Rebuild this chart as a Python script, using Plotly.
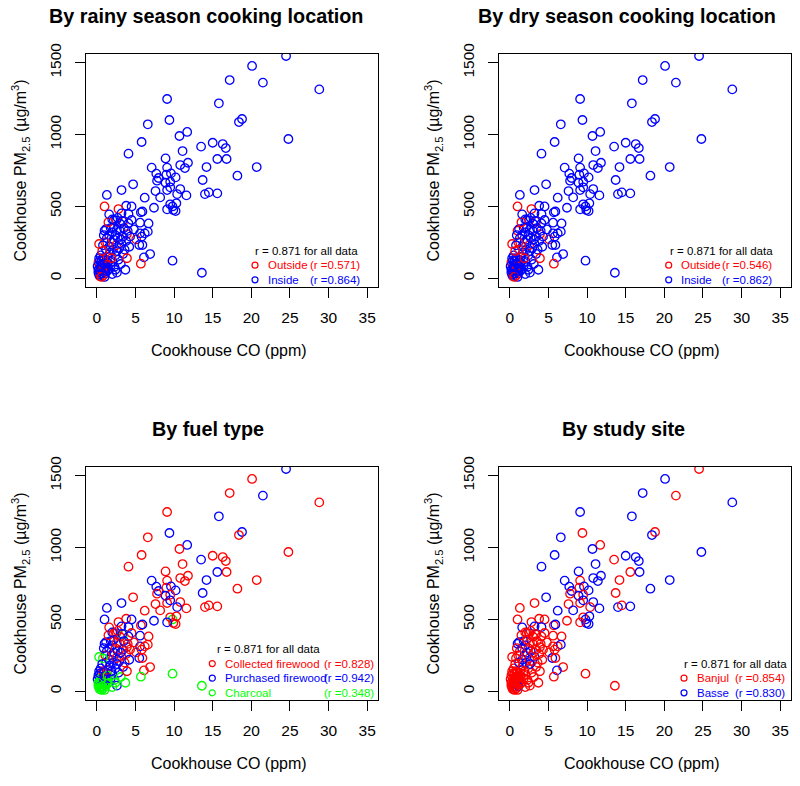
import plotly.graph_objects as go

# ---------------- data ----------------
# Cookhouse CO (ppm)
co = [
    24.5, 20.1, 17.2, 21.5, 28.8, 9.1, 15.8, 18.8, 18.4, 9.4,
    6.6, 11.7, 10.7, 24.8, 5.8, 15.0, 16.3, 16.7, 13.5, 11.1,
    4.1, 8.9, 15.6, 16.8, 10.8, 11.8, 11.4, 7.1, 9.1, 14.2,
    20.7, 7.7, 8.0, 9.0, 9.6, 10.2, 9.5, 8.9, 7.8, 18.2,
    13.7, 4.7, 10.8, 9.1, 9.5, 7.6, 3.2, 11.6, 10.4, 8.2,
    14.0, 14.5, 15.6, 1.3, 6.2, 7.4, 9.8, 9.5, 9.9, 10.2,
    9.1, 10.3, 3.8, 4.5, 4.1, 1.0, 2.8, 5.7, 5.9, 1.6,
    2.5, 3.4, 4.5, 4.1, 5.6, 6.7, 1.0, 1.2, 3.9, 5.1,
    5.5, 5.9, 6.9, 6.1, 9.8, 13.6, 5.7, 0.3, 5.6, 6.2,
    6.6, 5.8, 4.8, 3.2, 2.2,
    # dense cluster near the origin
    0.2, 0.3, 0.4, 0.5, 0.6, 0.7, 0.8, 0.9, 1.0, 0.2,
    0.4, 0.6, 0.8, 1.1, 1.2, 0.3, 0.5, 0.7, 0.9, 1.0,
    0.1, 0.6, 1.1, 0.4, 0.8, 0.3, 0.9, 1.2, 0.5, 0.2,
    0.7, 1.0, 0.6, 1.3, 0.4,
    1.5, 1.8, 2.0, 2.3, 2.6, 1.4, 1.7, 2.1, 2.4, 2.8,
    3.1, 3.4, 1.6, 1.9, 2.2, 2.5, 2.9, 3.2, 3.6, 1.3,
    1.6, 2.0, 2.4, 2.7, 3.0, 3.4, 3.8, 1.8, 2.2, 2.6,
    3.0, 3.5, 1.5, 2.0, 2.7, 3.3, 4.0, 4.3, 4.2, 3.9,
    1.2, 1.1, 0.9, 0.8, 0.7, 1.4, 2.0, 2.6, 3.1, 1.9,
    2.4, 3.7,
]
# Cookhouse PM2.5 (ug/m3)
pm = [
    1546, 1477, 1379, 1361, 1314, 1247, 1217, 1108, 1087, 1101,
    1071, 1018, 990, 969, 948, 943, 934, 906, 916, 885,
    867, 834, 830, 830, 788, 804, 767, 770, 770, 774,
    774, 728, 698, 721, 730, 702, 672, 665, 679, 714,
    684, 654, 621, 614, 633, 607, 614, 577, 586, 563,
    586, 598, 591, 580, 561, 491, 500, 515, 475, 468,
    480, 522, 505, 500, 447, 500, 482, 459, 465, 445,
    403, 394, 406, 382, 387, 382, 331, 343, 308, 271,
    232, 232, 169, 146, 123, 39, 102, 239, 313, 313,
    325, 290, 340, 452, 406,
    40, 65, 90, 30, 55, 80, 20, 45, 70, 110,
    15, 120, 100, 35, 95, 140, 75, 60, 125, 10,
    85, 95, 60, 50, 140, 25, 85, 120, 160, 60,
    35, 105, 10, 50, 125,
    60, 90, 120, 80, 40, 150, 180, 200, 160, 130,
    100, 170, 220, 250, 270, 230, 210, 240, 200, 280,
    300, 320, 300, 280, 330, 290, 260, 350, 360, 340,
    380, 350, 390, 410, 420, 400, 330, 290, 220, 140,
    200, 250, 300, 230, 190, 110, 30, 190, 270, 140,
    60, 60,
]
# rainy season cooking location: O = Outside, I = Inside
rainy_loc = list((
    "IIIII IIIII IIIII IIIII IIIII IIIII IIIII IIIII IIIII IIIII "
    "IIIII IIIII IIIII OOIII IOIII IIIOO IIIII IOOII IIIII "
    "IIIOI IOIIO OIIII IIOII IIIII IOIII IIOII "
    "IIIII OIIII IIIII OIIII IIIII IIIII IIOII IIIIO IOIIO IIIIO II"
).replace(" ", ""))
# dry season cooking location
dry_loc = list((
    "IIIII IIIII IIIII IIIII IIIII IIIII IIIII IIIII IIIII IIIII "
    "IIIII IIIII IIIII OOIII IOIII IOIOO IIIII IOOII IIIII "
    "IIIOI IOIIO OIOII IIIII IIIII IOIII IIOII "
    "IIIII IIIII IIIII OIIII IIIII IIIII IIOII IIIIO OOIIO IIIIO II"
).replace(" ", ""))
# fuel type: C = Collected firewood, P = Purchased firewood, H = Charcoal
fuel = list((
    "PCCPC CPPCP CPCCC CCCPC CCPCC CCPCP CPPCP PCPCC PCCCP CPCPC "
    "CCCPC PHCCC PCCPP PCCPC CHCPP CPPCC PCCCH HHHPC CCCPC "
    "HHPHH PHHPP HPPHP PHHPH PHHHC HPCPH HPHHP "
    "HPPHP CPPPP HPPPP CPCCP PPCPC PCPPC CPCPC PCCPC PCPHP HHPPP HH"
).replace(" ", ""))
# study site: B = Banjul, S = Basse
site = list((
    "BSSBS SSBSB SBSSS SSSBS SSBSS SSSBB SSSBS SBSBS BSSBS BBSBS "
    "SBSBS BSBSS BSBBS BBBSS BBBBB BSSBB SBBSB BBBBB SBBSB "
    "BBBBB BBSBB BBBSB BBBBB BBBBB BBBBB BBBBB "
    "BBBBB BBSBB BBSSS BBSBB SSBSB BBSBB BBBBB BBBBB SBBBB BBSBB BB"
).replace(" ", ""))

assert len(co) == len(pm) == len(rainy_loc) == len(dry_loc) == len(fuel) == len(site)

titles = ["By rainy season cooking location", "By dry season cooking location",
          "By fuel type", "By study site"]
x_ticks = [0, 5, 10, 15, 20, 25, 30, 35]
y_ticks = [0, 500, 1000, 1500]
overall_r = "r = 0.871 for all data"

RED, BLUE, GREEN = "#FF0000", "#0000FF", "#00FF00"
groupings = [
    (rainy_loc, {"O": RED, "I": BLUE},
     [("Outside", "(r =0.571)", RED), ("Inside", "(r =0.864)", BLUE)]),
    (dry_loc, {"O": RED, "I": BLUE},
     [("Outside", "(r =0.546)", RED), ("Inside", "(r =0.862)", BLUE)]),
    (fuel, {"C": RED, "P": BLUE, "H": GREEN},
     [("Collected firewood", "(r =0.828)", RED),
      ("Purchased firewood", "(r =0.942)", BLUE),
      ("Charcoal", "(r =0.348)", GREEN)]),
    (site, {"B": RED, "S": BLUE},
     [("Banjul", "(r =0.854)", RED), ("Basse", "(r =0.830)", BLUE)]),
]

# ---------------- layout geometry (page pixels) ----------------
W, H = 800, 786
FONT = "Liberation Sans, Arial, Helvetica, sans-serif"
panels = [(86, 378, 54, 287), (499, 791, 54, 287),
          (86, 378, 467, 700), (499, 791, 467, 700)]
title_shift = [-26, -18, -24, -22]
# legend geometry per panel (offsets from panel right edge)
leg_geo = [
    dict(rx=124.7, cx=123, lx=112.3, rr=16.3, ranchor="right"),
    dict(rx=123.3, cx=122.3, lx=111.7, rr=16.7, ranchor="right"),
    dict(rx=162.7, cx=165.7, lx=154.7, rr=2.0, ranchor="right"),
    dict(rx=109.0, cx=107.0, lx=96.0, rr=57.7, ranchor="left"),
]


def fx(p):
    return p / W


def fy(p):
    return 1 - p / H


fig = go.Figure()
annotations = []
shapes = []

for i, ((L, R, T, B), title, (codes, cmap, legend)) in enumerate(
        zip(panels, titles, groupings)):
    k = "" if i == 0 else str(i + 1)
    fig.add_trace(go.Scatter(
        x=co, y=pm, mode="markers", xaxis="x" + k, yaxis="y" + k,
        marker=dict(symbol="circle-open", size=8.5,
                    color=[cmap[c] for c in codes], line=dict(width=1.3)),
        showlegend=False, hoverinfo="x+y"))
    axis_common = dict(showline=True, mirror=True, linecolor="black", linewidth=1,
                       ticks="outside", ticklen=10, tickwidth=1, tickcolor="black",
                       showgrid=False, zeroline=False, automargin=False,
                       tickfont=dict(family=FONT, size=15.5, color="black"))
    fig.update_layout(**{
        "xaxis" + k: dict(domain=[fx(L), fx(R)], anchor="y" + k, range=[-1.4, 36.4],
                          tickvals=x_ticks, ticklabelstandoff=6, **axis_common),
        "yaxis" + k: dict(domain=[fy(B), fy(T)], anchor="x" + k, range=[-60, 1560],
                          tickvals=y_ticks, tickangle=-90, ticklabelstandoff=8,
                          **axis_common),
    })
    cxm = (L + R) / 2
    annotations.append(dict(text="<b>" + title + "</b>", x=fx(cxm + title_shift[i]),
                            y=fy(T - 38), xref="paper", yref="paper", showarrow=False,
                            xanchor="center", yanchor="middle",
                            font=dict(family=FONT, size=19.8, color="black")))
    annotations.append(dict(text="Cookhouse CO (ppm)", x=fx(cxm - 3), y=fy(B + 63),
                            xref="paper", yref="paper", showarrow=False,
                            xanchor="center", yanchor="middle",
                            font=dict(family=FONT, size=16, color="black")))
    annotations.append(dict(text="Cookhouse PM<sub>2.5</sub> (µg/m<sup>3</sup>)",
                            x=fx(L - 66), y=fy((T + B) / 2), textangle=-90,
                            xref="paper", yref="paper", showarrow=False,
                            xanchor="center", yanchor="middle",
                            font=dict(family=FONT, size=16, color="black")))
    # legend block
    g = leg_geo[i]
    n = len(legend)
    rows = [B - 7.2 - 14.6 * (n - j) for j in range(n + 1)]
    annotations.append(dict(text=overall_r, x=fx(R - g["rx"]), y=fy(rows[0]),
                            xref="paper", yref="paper", showarrow=False,
                            xanchor="left", yanchor="middle",
                            font=dict(family=FONT, size=11.5, color="black")))
    for j, (lab, rtxt, col) in enumerate(legend):
        yy = rows[j + 1]
        cx = R - g["cx"]
        shapes.append(dict(type="circle", xref="paper", yref="paper",
                           x0=fx(cx - 3), x1=fx(cx + 3), y0=fy(yy + 3), y1=fy(yy - 3),
                           line=dict(color=col, width=1.2)))
        annotations.append(dict(text=lab, x=fx(R - g["lx"]), y=fy(yy),
                                xref="paper", yref="paper", showarrow=False,
                                xanchor="left", yanchor="middle",
                                font=dict(family=FONT, size=11.5, color=col)))
        annotations.append(dict(text=rtxt, x=fx(R - g["rr"]), y=fy(yy),
                                xref="paper", yref="paper", showarrow=False,
                                xanchor=g["ranchor"], yanchor="middle",
                                font=dict(family=FONT, size=11.5, color=col)))

fig.update_layout(width=W, height=H, margin=dict(l=0, r=0, t=0, b=0),
                  paper_bgcolor="white", plot_bgcolor="white",
                  annotations=annotations, shapes=shapes,
                  font=dict(family=FONT, color="black"))

# remove the default 8px page margin so the figure sits at the window's corner
fig.write_html("out.html", config={"displayModeBar": False},
               post_script="document.body.style.margin='0';"
                           "document.body.style.overflow='hidden';")
